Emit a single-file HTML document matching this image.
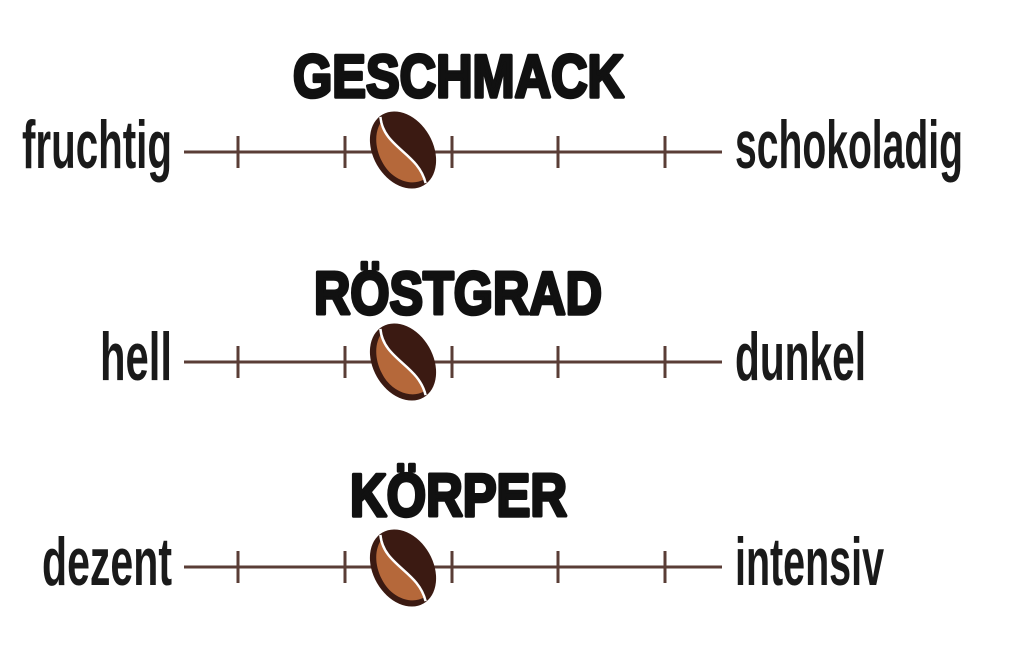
<!DOCTYPE html>
<html><head><meta charset="utf-8"><style>
html,body{margin:0;padding:0;background:#fff;}
svg{display:block}
.t{font-family:"Liberation Sans",sans-serif;font-weight:bold;fill:#111;stroke:#111;stroke-width:3.5px;stroke-linejoin:round;font-size:60px}
.l{font-family:"Liberation Sans",sans-serif;font-weight:bold;fill:#1a1a1a;font-size:68px}
</style></head><body>
<svg width="1024" height="662" viewBox="0 0 1024 662" xmlns="http://www.w3.org/2000/svg">
<defs>
<g id="bean">
  <g transform="rotate(-30)">
    <ellipse cx="0" cy="0" rx="30" ry="41" fill="#3b1a12"/>
    <path d="M -3,-36 C -16,-12 12,10 3,36 C -10,36 -24,22 -24,2 C -24,-18 -14,-32 -3,-36 Z" fill="#b5683a"/>
    <path d="M -3,-40 C -16,-12 12,10 3,40" fill="none" stroke="#fff" stroke-width="2.5"/>
  </g>
</g>
<g id="scale">
  <line x1="184" y1="0" x2="722" y2="0" stroke="#5a3d36" stroke-width="3"/>
  <line x1="238" y1="-16" x2="238" y2="16" stroke="#5a3d36" stroke-width="3"/>
  <line x1="345" y1="-16" x2="345" y2="16" stroke="#5a3d36" stroke-width="3"/>
  <line x1="452" y1="-16" x2="452" y2="16" stroke="#5a3d36" stroke-width="3"/>
  <line x1="558" y1="-16" x2="558" y2="16" stroke="#5a3d36" stroke-width="3"/>
  <line x1="665" y1="-16" x2="665" y2="16" stroke="#5a3d36" stroke-width="3"/>
</g>
</defs>

<text class="t" x="293" y="97" textLength="331" lengthAdjust="spacingAndGlyphs">GESCHMACK</text>
<use href="#scale" y="152"/>
<use href="#bean" x="403" y="150"/>
<text class="l" x="22" y="168" textLength="150" lengthAdjust="spacingAndGlyphs">fruchtig</text>
<text class="l" x="735" y="168" textLength="228" lengthAdjust="spacingAndGlyphs">schokoladig</text>

<text class="t" x="314" y="314" textLength="288" lengthAdjust="spacingAndGlyphs">RÖSTGRAD</text>
<use href="#scale" y="362"/>
<use href="#bean" x="403" y="362"/>
<text class="l" x="100" y="380" textLength="72" lengthAdjust="spacingAndGlyphs">hell</text>
<text class="l" x="735" y="380" textLength="131" lengthAdjust="spacingAndGlyphs">dunkel</text>

<text class="t" x="350" y="516" textLength="217" lengthAdjust="spacingAndGlyphs">KÖRPER</text>
<use href="#scale" y="567"/>
<use href="#bean" x="403" y="568"/>
<text class="l" x="42" y="585" textLength="130" lengthAdjust="spacingAndGlyphs">dezent</text>
<text class="l" x="735" y="585" textLength="149" lengthAdjust="spacingAndGlyphs">intensiv</text>
</svg>
</body></html>
